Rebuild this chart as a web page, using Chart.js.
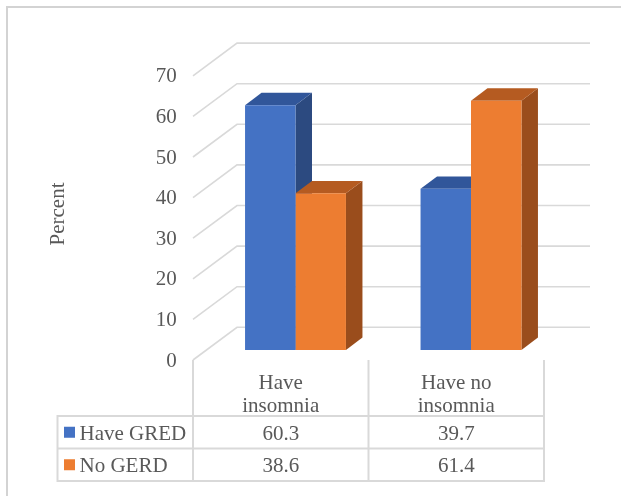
<!DOCTYPE html>
<html>
<head>
<meta charset="utf-8">
<script src="https://cdn.jsdelivr.net/npm/chart.js@4/dist/chart.umd.min.js"></script>
<style>
  html, body { margin: 0; padding: 0; background: #ffffff; }
  #wrap { width: 621px; height: 496px; position: relative; }
  #warm { position: absolute; left: -9999px; top: 0; font: 21px "Liberation Serif", serif; }
</style>
</head>
<body>
<div id="wrap"><canvas id="c" width="621" height="496"></canvas></div>
<span id="warm">Percent 0123456789 Have GRED No GERD insomnia</span>
<script>
// Categories, series and axis ticks
const categories = [['Have', 'insomnia'], ['Have no', 'insomnia']];
const seriesNames = ['Have GRED', 'No GERD'];
const haveGred = [60.3, 39.7];
const noGerd = [38.6, 61.4];
const yTicks = [0, 10, 20, 30, 40, 50, 60, 70];
const axisTitle = 'Percent';

// Face colours of the columns: front, top, side
const palette = [
  { front: '#4472C4', top: '#31569A', side: '#2C4A80' },
  { front: '#ED7D31', top: '#B55B21', side: '#9A4D1C' }
];

const FONT = '"Liberation Serif", serif';
const TEXT = '#595959';
const GRID = '#D9D9D9';

// Oblique projection offsets (pixels) relative to the column front plane
const WALL_FRONT = { dx: -14.75, dy: 10 };   // front edge of the side wall
const WALL_BACK = { dx: 29.25, dy: -22.7 };   // back wall plane
const DEPTH = { dx: 16.5, dy: -12.4 };        // thickness of a column

const series = [haveGred, noGerd];

function polygon(ctx, pts, fill) {
  ctx.beginPath();
  ctx.moveTo(pts[0][0], pts[0][1]);
  for (let i = 1; i < pts.length; i++) ctx.lineTo(pts[i][0], pts[i][1]);
  ctx.closePath();
  ctx.fillStyle = fill;
  ctx.fill();
}

const threeD = {
  id: 'threeD',
  beforeDraw(chart) {
    const ctx = chart.ctx;
    ctx.save();
    ctx.fillStyle = '#ffffff';
    ctx.fillRect(0, 0, chart.width, chart.height);
    // outer frame
    ctx.strokeStyle = '#D3D3D3';
    ctx.lineWidth = 2;
    ctx.beginPath();
    ctx.moveTo(7, chart.height);
    ctx.lineTo(7, 7);
    ctx.lineTo(chart.width, 7);
    ctx.stroke();
    ctx.restore();
  },
  beforeDatasetsDraw(chart) {
    const ctx = chart.ctx;
    const xs = chart.scales.x, ys = chart.scales.y;
    ctx.save();
    // side wall diagonals and back wall gridlines
    ctx.strokeStyle = GRID;
    ctx.lineWidth = 1.6;
    yTicks.forEach(v => {
      const py = ys.getPixelForValue(v);
      ctx.beginPath();
      ctx.moveTo(xs.left + WALL_FRONT.dx, py + WALL_FRONT.dy);
      ctx.lineTo(xs.left + WALL_BACK.dx, py + WALL_BACK.dy);
      ctx.lineTo(xs.right + WALL_BACK.dx + 2, py + WALL_BACK.dy);
      ctx.stroke();
    });
    // side and top faces, painted left to right
    const bars = [];
    chart.data.datasets.forEach((ds, d) => {
      chart.getDatasetMeta(d).data.forEach(el => bars.push({ el, d }));
    });
    bars.sort((a, b) => a.el.x - b.el.x);
    bars.forEach(({ el, d }) => {
      const p = el.getProps(['x', 'y', 'base', 'width'], true);
      const xl = p.x - p.width / 2, xr = p.x + p.width / 2;
      const top = Math.min(p.y, p.base), bot = Math.max(p.y, p.base);
      polygon(ctx, [[xr, top], [xr + DEPTH.dx, top + DEPTH.dy], [xr + DEPTH.dx, bot + DEPTH.dy], [xr, bot]], palette[d].side);
      polygon(ctx, [[xl, top], [xr, top], [xr + DEPTH.dx, top + DEPTH.dy], [xl + DEPTH.dx, top + DEPTH.dy]], palette[d].top);
    });
    ctx.restore();
  },
  afterDraw(chart) {
    const ctx = chart.ctx;
    const xs = chart.scales.x, ys = chart.scales.y;
    ctx.save();

    // axis title
    ctx.fillStyle = TEXT;
    ctx.font = '21px ' + FONT;
    ctx.textAlign = 'center';
    ctx.textBaseline = 'middle';
    ctx.translate(58.5, 214);
    ctx.rotate(-Math.PI / 2);
    ctx.fillText(axisTitle, 0, 0);
    ctx.setTransform(1, 0, 0, 1, 0, 0);

    // data table beneath the plot
    const left = xs.left + WALL_FRONT.dx;
    const colW = (xs.right - xs.left) / categories.length;
    const edges = [];
    for (let i = 0; i <= categories.length; i++) edges.push(left + i * colW);
    const tableTop = ys.getPixelForValue(0) + WALL_FRONT.dy;
    const headBottom = 416;
    const rowH = 32.5;
    const tableBottom = headBottom + rowH * series.length;
    const keyLeft = 57.5;

    ctx.strokeStyle = GRID;
    ctx.lineWidth = 2;
    ctx.beginPath();
    edges.forEach(x => { ctx.moveTo(x, tableTop); ctx.lineTo(x, tableBottom); });
    ctx.moveTo(keyLeft, headBottom); ctx.lineTo(keyLeft, tableBottom);
    for (let r = 0; r <= series.length; r++) {
      const y = headBottom + r * rowH;
      ctx.moveTo(keyLeft - 1, y); ctx.lineTo(edges[edges.length - 1] + 1, y);
    }
    ctx.stroke();

    // category headings
    ctx.fillStyle = TEXT;
    ctx.font = '21px ' + FONT;
    ctx.textAlign = 'center';
    ctx.textBaseline = 'alphabetic';
    categories.forEach((lines, i) => {
      const cx = edges[i] + colW / 2;
      lines.forEach((t, k) => ctx.fillText(t, cx, 388.5 + k * 23.4));
    });

    // rows: key swatch, series name, values
    series.forEach((vals, r) => {
      const mid = headBottom + r * rowH + rowH / 2;
      ctx.fillStyle = palette[r].front;
      ctx.fillRect(64, mid - 5.5, 11, 11);
      ctx.fillStyle = TEXT;
      ctx.textAlign = 'left';
      ctx.fillText(seriesNames[r], 79.5, mid + 7.5);
      ctx.textAlign = 'center';
      vals.forEach((v, i) => ctx.fillText(v.toFixed(1), edges[i] + colW / 2, mid + 7.5));
    });
    ctx.restore();
  }
};

function build() {
  new Chart(document.getElementById('c'), {
    type: 'bar',
    data: {
      labels: categories,
      datasets: series.map((vals, d) => ({
        label: seriesNames[d],
        data: vals,
        backgroundColor: palette[d].front,
        borderWidth: 0,
        barPercentage: 1,
        categoryPercentage: 0.575
      }))
    },
    options: {
      responsive: false,
      animation: false,
      devicePixelRatio: 1,
      layout: { padding: { left: 107.75, right: 62.25, top: 65.8, bottom: 146 } },
      plugins: { legend: { display: false }, tooltip: { enabled: false } },
      scales: {
        x: { display: false, offset: true },
        y: {
          min: 0, max: 70,
          afterFit(s) { s.width = 100; },
          afterBuildTicks(s) { s.ticks = yTicks.map(v => ({ value: v })); },
          grid: { display: false, drawTicks: false },
          border: { display: false },
          ticks: { padding: 31, labelOffset: 11, color: TEXT, font: { family: FONT, size: 21 } }
        }
      }
    },
    plugins: [threeD]
  });
}

if (document.fonts && document.fonts.load) {
  document.fonts.load('21px "Liberation Serif"').then(build, build);
} else {
  build();
}
</script>
</body>
</html>
